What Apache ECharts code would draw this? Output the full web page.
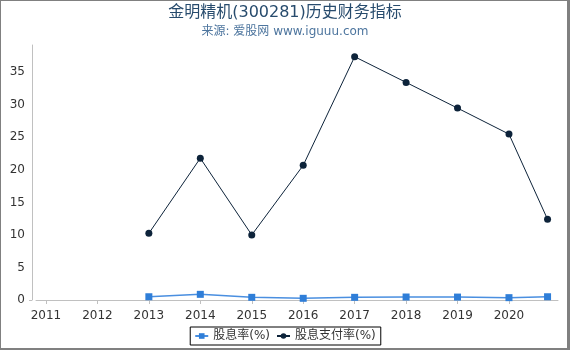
<!DOCTYPE html>
<html>
<head>
<meta charset="utf-8">
<script src="https://cdn.jsdelivr.net/npm/echarts@6/dist/echarts.min.js"></script>
<style>
html,body{margin:0;padding:0;background:#fff;}
#wrap{position:relative;width:570px;height:350px;}
#chart{position:absolute;left:0;top:0;width:570px;height:350px;}
#frame{position:absolute;left:0;top:0;width:570px;height:350px;box-sizing:border-box;
  border-top:1px solid #808080;border-left:1px solid #808080;border-right:3px solid #808080;border-bottom:2px solid #808080;pointer-events:none;}
</style>
</head>
<body>
<div id="wrap"><div id="chart"></div><div id="frame"></div></div>
<script>
// Data
const years = [2013, 2014, 2015, 2016, 2017, 2018, 2019, 2020, 2020.75];
const dividendYield = [0.5, 0.87, 0.41, 0.26, 0.41, 0.46, 0.45, 0.36, 0.5];
const payoutRatio = [10.25, 21.8, 10.0, 20.7, 37.4, 33.45, 29.5, 25.5, 12.4];
const xTickLabels = [2011, 2012, 2013, 2014, 2015, 2016, 2017, 2018, 2019, 2020];
const yTickLabels = [0, 5, 10, 15, 20, 25, 30, 35];
const seriesNames = ['股息率(%)', '股息支付率(%)'];

const FONT = '"DejaVu Sans", "Noto Sans CJK SC", sans-serif';
const pairs = (xs, ys) => xs.map((x, i) => [x, ys[i]]);

const chart = echarts.init(document.getElementById('chart'), null, {renderer: 'canvas'});
chart.setOption({
  animation: false,
  backgroundColor: '#fff',
  title: {
    text: '金明精机(300281)历史财务指标',
    subtext: '来源: 爱股网 www.iguuu.com',
    left: 'center',
    top: 5,
    itemGap: 5,
    padding: 0,
    textStyle: {fontFamily: FONT, fontSize: 16, fontWeight: 'normal', color: '#274b6d'},
    subtextStyle: {fontFamily: FONT, fontSize: 12, color: '#4d759e'}
  },
  legend: {
    data: seriesNames,
    left: 'center',
    top: 327,
    padding: [3, 5, 3, 4],
    itemGap: 6,
    itemWidth: 13,
    itemHeight: 7,
    borderColor: '#000',
    borderWidth: 1,
    textStyle: {fontFamily: FONT, fontSize: 12, color: '#333'}
  },
  grid: {left: 36, right: 12, top: 45, bottom: 50},
  xAxis: {
    type: 'value',
    min: 2010.806,
    max: 2020.953,
    offset: 4,
    splitLine: {show: false},
    axisLine: {show: true, lineStyle: {color: '#c0c0c0', width: 1}},
    axisTick: {show: true, length: 4, lineStyle: {color: '#c0c0c0'}, customValues: xTickLabels},
    axisLabel: {
      customValues: xTickLabels,
      margin: 6,
      color: '#333',
      fontFamily: FONT,
      fontSize: 12,
      formatter: v => String(Math.round(v))
    }
  },
  yAxis: {
    type: 'value',
    min: 0,
    max: 39.2,
    interval: 5,
    offset: 4,
    axisLine: {show: true, lineStyle: {color: '#c0c0c0', width: 1}},
    axisTick: {show: true, length: 3, lineStyle: {color: '#c0c0c0'}, customValues: [0]},
    splitLine: {show: true, showMinLine: false, showMaxLine: false, lineStyle: {color: '#c0c0c0', width: 1}},
    axisLabel: {
      customValues: yTickLabels,
      margin: 7,
      color: '#333',
      fontFamily: FONT,
      fontSize: 12
    }
  },
  series: [
    {
      name: seriesNames[0],
      type: 'line',
      data: pairs(years, dividendYield),
      symbol: 'rect',
      symbolSize: 7,
      itemStyle: {color: '#2f7ed8'},
      lineStyle: {color: '#4a8fe0', width: 1.5},
      z: 2
    },
    {
      name: seriesNames[1],
      type: 'line',
      data: pairs(years, payoutRatio),
      symbol: 'circle',
      symbolSize: 7,
      itemStyle: {color: '#0d233a'},
      lineStyle: {color: '#0d233a', width: 1},
      z: 3
    }
  ]
});
</script>
</body>
</html>
